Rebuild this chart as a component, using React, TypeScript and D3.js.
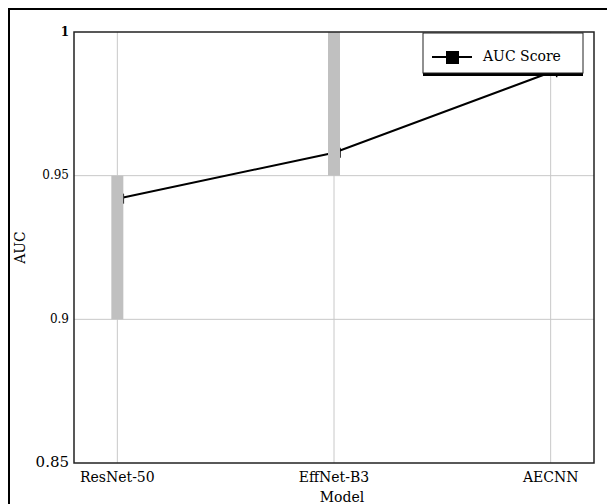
import React from "react";
import * as d3 from "d3";

const models = ["ResNet-50", "EffNet-B3", "AECNN"];
const aucScores = [0.942, 0.958, 0.986];
const rangeLow = [0.9, 0.95, 1.0];
const rangeHigh = [0.95, 1.0, 1.0];
const yTicks = [0.85, 0.9, 0.95, 1];
const yTickLabels = ["0.85", "0.9", "0.95", "1"];
const seriesName = "AUC Score";

const W = 607;
const H = 504;
const M = { left: 74, top: 32, right: 594, bottom: 463 };
const FONT = "'DejaVu Serif', Georgia, serif";

export default function App() {
  const x = d3.scalePoint<string>().domain(models).range([M.left, M.right]).padding(0.2);
  const y = d3.scaleLinear().domain([0.85, 1]).range([M.bottom, M.top]);
  const line = d3
    .line<number>()
    .x((_, i) => x(models[i]) as number)
    .y((d) => y(d));

  const legX = 423;
  const legY = 33;
  const legW = 160;
  const legH = 40;

  return (
    <svg
      width={W}
      height={H}
      style={{ position: "absolute", left: 0, top: 0, background: "#fff" }}
      fontFamily={FONT}
    >
      <rect x={9} y={9} width={W} height={H} fill="none" stroke="#000" strokeWidth={2} />
      {/* grid */}
      {models.map((m) => (
        <line key={m} x1={x(m)} x2={x(m)} y1={M.top} y2={M.bottom} stroke="#c8c8c8" strokeWidth={1} />
      ))}
      {yTicks.slice(1, -1).map((t) => (
        <line key={t} x1={M.left} x2={M.right} y1={y(t)} y2={y(t)} stroke="#c8c8c8" strokeWidth={1} />
      ))}
      {/* line */}
      <path d={line(aucScores) || ""} fill="none" stroke="#000" strokeWidth={2} />
      {aucScores.map((v, i) => (
        <line
          key={"t" + i}
          x1={(x(models[i]) as number) + 6}
          x2={(x(models[i]) as number) + 6}
          y1={y(v) - 5}
          y2={y(v) + 5}
          stroke="#000"
          strokeWidth={1.5}
        />
      ))}
      {/* range bars */}
      {models.map((m, i) =>
        rangeHigh[i] > rangeLow[i] ? (
          <rect
            key={"b" + m}
            x={(x(m) as number) - 6}
            width={12}
            y={y(rangeHigh[i])}
            height={y(rangeLow[i]) - y(rangeHigh[i])}
            fill="#c0c0c0"
          />
        ) : null
      )}
      {/* plot border */}
      <rect
        x={M.left}
        y={M.top}
        width={M.right - M.left}
        height={M.bottom - M.top}
        fill="none"
        stroke="#222"
        strokeWidth={1.5}
      />
      {/* y tick labels */}
      {yTicks.map((t, i) => (
        <text
          key={"yl" + t}
          x={M.left - 5}
          y={y(t)}
          textAnchor="end"
          dominantBaseline="middle"
          fontSize={i === 0 ? 15 : 12}
          fontWeight={i === yTicks.length - 1 ? "bold" : "normal"}
        >
          {yTickLabels[i]}
        </text>
      ))}
      {/* x tick labels */}
      {models.map((m) => (
        <text key={"xl" + m} x={x(m)} y={482} textAnchor="middle" fontSize={14}>
          {m}
        </text>
      ))}
      <text x={342} y={502} textAnchor="middle" fontSize={14}>
        Model
      </text>
      <text
        transform={`translate(25,${(M.top + M.bottom) / 2}) rotate(-90)`}
        textAnchor="middle"
        fontSize={14}
      >
        AUC
      </text>
      {/* legend */}
      <rect x={legX} y={legY + 3} width={legW} height={legH} fill="#000" />
      <rect x={legX} y={legY} width={legW} height={legH} fill="#fff" stroke="#222" strokeWidth={1} />
      <line x1={legX + 9} x2={legX + 49} y1={legY + 24} y2={legY + 24} stroke="#000" strokeWidth={2} />
      <rect x={legX + 23} y={legY + 18} width={13} height={13} fill="#000" />
      <text x={legX + 60} y={legY + 24} dominantBaseline="middle" fontSize={14}>
        {seriesName}
      </text>
    </svg>
  );
}
